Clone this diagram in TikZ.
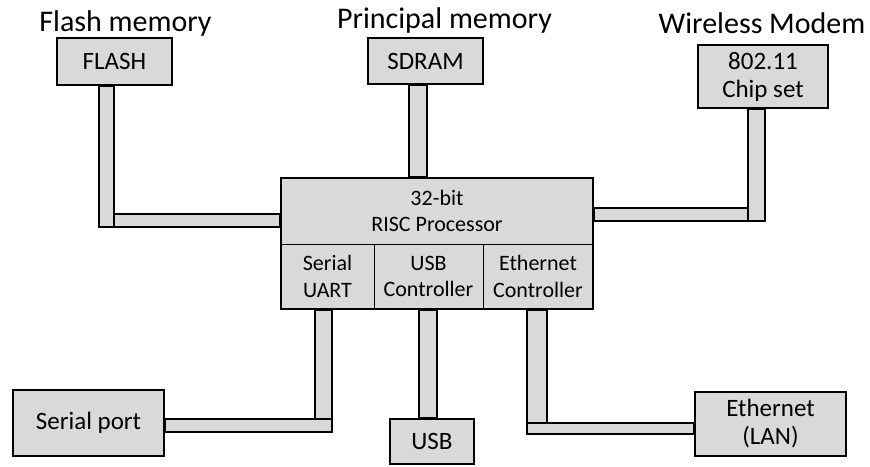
\documentclass[tikz,border=0pt]{standalone}
\usepackage{fontspec}
\setmainfont{Carlito}
\usetikzlibrary{positioning, fit, backgrounds}
\definecolor{boxgray}{RGB}{217,217,217}

\begin{document}
\begin{tikzpicture}[
    x=1pt, y=-1pt,
    block/.style={rectangle, draw=black, fill=boxgray, line width=1.8pt, inner sep=0pt, align=center, font=\fontsize{25}{28}\selectfont},
    cell/.style={rectangle, draw=black, fill=boxgray, line width=0.8pt, inner sep=0pt, outer sep=0pt, align=center, font=\fontsize{22}{26.5}\selectfont},
    bus/.style={draw=black, fill=boxgray, line width=1.8pt},
    heading/.style={anchor=base, font=\fontsize{30}{36}\selectfont},
]
\useasboundingbox (0,0) rectangle (870,466);

% Processor with its on-chip controllers
\node[cell, minimum width=312, minimum height=66] (core) at (437,211) {32-bit\\RISC Processor};
\node[cell, minimum width=93, minimum height=65] (uart) at (327.5,276.5) {Serial\\UART};
\node[cell, minimum width=109, minimum height=65] (usbc) at (428.5,276.5) {USB\\Controller};
\node[cell, minimum width=110, minimum height=65] (ethc) at (538,276.5) {Ethernet\\Controller};
\node[draw=black, line width=1.8pt, inner sep=0pt, fit=(core)(uart)(ethc)] (proc) {};

% Memories and modem
\node[block, minimum width=115, minimum height=47] (flash) at (114.5,61.5) {FLASH};
\node[block, minimum width=115, minimum height=46] (sdram) at (425.5,61) {SDRAM};
\node[block, minimum width=130, minimum height=63] (chip) at (763,76.5) {802.11\\Chip set};

\node[heading] (flashlbl) at (125.5,31) {Flash memory};
\node[heading] (sdramlbl) at (444.5,28.5) {Principal memory};
\node[heading] (chiplbl) at (762,33.5) {Wireless Modem};

% External ports
\node[block, minimum width=151, minimum height=66] (serial) at (88.5,423) {Serial port};
\node[block, minimum width=84, minimum height=45] (usb) at (432,441.5) {USB};
\node[block, minimum width=151, minimum height=64] (lan) at (770.5,424) {Ethernet\\(LAN)};

% Bus corners
\coordinate (fa) at (99,227);
\coordinate (fb) at (114,214);
\coordinate (sa) at (409,0);
\coordinate (sb) at (427,0);
\coordinate (wa) at (765,221);
\coordinate (wb) at (748,208);
\coordinate (ra) at (315,419);
\coordinate (rb) at (332,432);
\coordinate (ua) at (419,0);
\coordinate (ub) at (437,0);
\coordinate (ea) at (527,423);
\coordinate (eb) at (547,434);

% Buses
\begin{scope}[on background layer]
  \draw[bus] (flash.south -| fa) rectangle (fa -| fb);
  \draw[bus] (fb) rectangle (proc.west |- fa);
  \draw[bus] (sdram.south -| sa) rectangle (proc.north -| sb);
  \draw[bus] (chip.south -| wa) rectangle (wa -| wb);
  \draw[bus] (proc.east |- wb) rectangle (wb |- wa);
  \draw[bus] (proc.south -| ra) rectangle (rb |- ra);
  \draw[bus] (serial.east |- ra) rectangle (rb);
  \draw[bus] (proc.south -| ua) rectangle (usb.north -| ub);
  \draw[bus] (proc.south -| ea) rectangle (eb |- ea);
  \draw[bus] (ea) rectangle (lan.west |- eb);
\end{scope}

\end{tikzpicture}
\end{document}
